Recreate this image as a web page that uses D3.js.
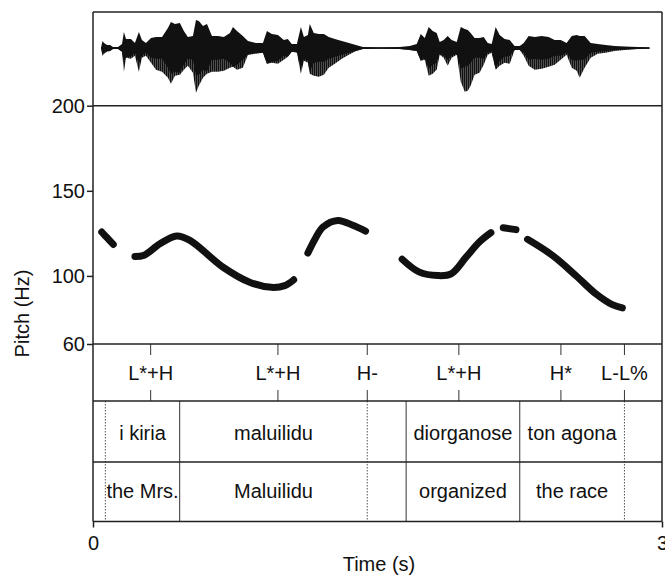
<!DOCTYPE html>
<html>
<head>
<meta charset="utf-8">
<script src="https://cdn.jsdelivr.net/npm/d3@7"></script>
<style>
  body { margin: 0; background: #fff; }
  svg text { font-family: "Liberation Sans", Arial, sans-serif; fill: #111; }
</style>
</head>
<body>
<div id="viz-container"></div>
<script>
// ---- data ----
// pitch track (s, Hz); null = unvoiced gap
let pitchTime = [0.046, 0.075, 0.107, null,
  0.221, 0.27, 0.353, 0.441, 0.511, 0.686, 0.826, 0.941, 1.011, 1.058, null,
  1.133, 1.17, 1.212, 1.291, 1.37, 1.437, null,
  1.63, 1.721, 1.817, 1.888, 1.967, 2.037, 2.098, null,
  2.163, 2.23, null,
  2.291, 2.423, 2.546, 2.651, 2.738, 2.791];
let pitchHz = [125.8, 122.3, 118.5, null,
  111.4, 112.2, 118.9, 123.5, 120.9, 105.1, 96.3, 93.3, 94.3, 97.7, null,
  113.4, 121.5, 128.7, 132.6, 129.7, 126.3, null,
  109.8, 102.2, 100.2, 101.2, 111, 119.9, 125.4, null,
  128.3, 127.2, null,
  121.5, 112, 100.2, 89.5, 83.1, 81.2];

// waveform envelope (s, amplitude up / amplitude down, arbitrary units)
let waveTime = [0.042,0.050,0.058,0.074,0.090,0.105,0.132,0.153,0.163,0.174,0.200,0.221,0.242,0.258,0.279,0.306,0.332,0.364,0.395,0.411,
  0.432,0.458,0.479,0.500,0.527,0.543,0.558,0.580,0.601,0.627,0.659,0.690,0.722,0.738,0.759,0.790,0.817,0.859,0.896,0.917,0.943,0.975,1.006,
  1.027,1.048,1.075,1.096,1.112,1.133,1.143,1.164,1.191,1.217,1.243,1.275,1.312,1.349,1.386,1.423,1.512,1.617,1.670,1.707,
  1.728,1.749,1.770,1.791,1.812,1.828,1.849,1.870,1.891,1.918,1.939,1.960,
  1.976,1.991,2.012,2.038,2.060,2.081,2.102,2.123,2.144,2.170,2.197,2.223,2.250,2.271,2.297,2.329,2.366,2.402,2.434,2.466,
  2.497,2.524,2.550,2.566,2.592,2.624,2.661,2.703,2.750,2.803,2.871,2.934];
let waveUp = [0,7,5,3,3,1,1,4,16,9,9,5,16,8,5,10,11,11,20,26,
  24,25,17,11,12,28,27,22,24,12,12,11,15,21,17,12,7,5,5,17,14,13,8,
  9,4,4,21,11,13,24,15,14,14,11,9,7,5,3,1,0.5,1,2,4,
  14,10,21,17,15,6,8,12,8,6,21,19,
  18,15,10,10,11,5,4,21,13,9,8,2,2,5,12,11,12,11,8,8,
  5,12,13,12,12,5,4,3,2,1.5,1,0.5];
let waveDown = [0,8,6,4,3,1,1,4,24,10,11,8,24,10,8,15,22,24,30,36,
  28,27,22,18,25,45,38,30,26,24,24,23,20,19,22,20,7,6,5,16,15,16,12,
  9,4,5,26,13,15,26,28,29,27,20,16,11,7,3,1,0.5,1,2,3,
  13,12,28,26,22,7,10,18,10,7,34,44,
  43,38,27,25,17,7,5,22,18,15,16,2,2,8,18,22,21,19,17,12,
  7,20,23,30,20,10,6,5,3,2,1,0.5];

// tones tier
let toneTime = [0.304, 0.975, 1.446, 1.929, 2.467, 2.802];
let toneLabel = ["L*+H", "L*+H", "H-", "L*+H", "H*", "L-L%"];

// word tiers
let wordBounds = [0.065, 0.457, 1.446, 1.651, 2.250, 2.802];
let wordDotted = [true, false, true, false, false, true];
let words = ["i kiria", "maluilidu", "", "diorganose", "ton agona"];
let gloss = ["the Mrs.", "Maluilidu", "", "organized", "the race"];

let pitchTicks = [60, 100, 150, 200];
let timeTicks = [0, 3];

// ---- layout ----
let W = 665, H = 577;
let left = 93, right = 662;
let yTop = 12, y200 = 105.7, y60 = 344, yTone = 401, yWord = 462, yBottom = 521.5;

let viz = d3.select("#viz-container")
  .append("svg")
    .attr("width", W)
    .attr("height", H)
;

let x = d3.scaleLinear().domain([0, 3]).range([left, right]);
let yPitch = d3.scaleLinear().domain([60, 200]).range([y60, y200]);
let yWave = d3.scaleLinear().domain([-58, 36]).range([y200, yTop]);

// stripes for the lower lobes of the waveform
let defs = viz.append("defs");
let pat = defs.append("pattern")
    .attr("id", "stripes")
    .attr("patternUnits", "userSpaceOnUse")
    .attr("width", 2)
    .attr("height", 4);
pat.append("rect").attr("width", 2).attr("height", 4).attr("fill", "#6a6a6a");
pat.append("rect").attr("width", 1.3).attr("height", 4).attr("fill", "#111");

// waveform
let wave = waveTime.map((t, i) => ({ t: t, up: waveUp[i], down: waveDown[i] }));

viz.append("path")
    .datum(wave)
    .attr("d", d3.area()
      .x(d => x(d.t))
      .y0(yWave(0))
      .y1(d => yWave(-d.down)))
    .attr("fill", "url(#stripes)")
;
// dark core: the positive lobe, mirrored
viz.append("path")
    .datum(wave)
    .attr("d", d3.area()
      .x(d => x(d.t))
      .y0(d => yWave(-Math.min(d.up, d.down)))
      .y1(d => yWave(d.up)))
    .attr("fill", "#111")
;
viz.append("line")
    .attr("x1", x(waveTime[0]))
    .attr("x2", x(waveTime[waveTime.length - 1]))
    .attr("y1", yWave(0))
    .attr("y2", yWave(0))
    .attr("stroke", "#111")
    .attr("stroke-width", 1.5)
;

// pitch track
let pitch = pitchTime.map((t, i) => ({ t: t, hz: pitchHz[i] }));
viz.append("path")
    .datum(pitch)
    .attr("d", d3.line()
      .defined(d => d.hz != null)
      .x(d => x(d.t))
      .y(d => yPitch(d.hz))
      .curve(d3.curveCatmullRom))
    .attr("fill", "none")
    .attr("stroke", "#111")
    .attr("stroke-width", 7)
    .attr("stroke-linecap", "round")
    .attr("stroke-linejoin", "round")
;

// word boundaries
viz.selectAll(".bound")
  .data(wordBounds)
  .enter()
  .append("line")
    .attr("x1", d => x(d))
    .attr("x2", d => x(d))
    .attr("y1", yTone)
    .attr("y2", yBottom)
    .attr("stroke", (d, i) => wordDotted[i] ? "#555" : "#333")
    .attr("stroke-width", 1)
    .attr("stroke-dasharray", (d, i) => wordDotted[i] ? "1.5,1.5" : null)
;

// tone ticks
toneTime.forEach(t => {
  viz.append("line")
      .attr("x1", x(t)).attr("x2", x(t))
      .attr("y1", y60).attr("y2", y60 + 11)
      .attr("stroke", "#333").attr("stroke-width", 1);
  viz.append("line")
      .attr("x1", x(t)).attr("x2", x(t))
      .attr("y1", yTone - 11).attr("y2", yTone)
      .attr("stroke", "#333").attr("stroke-width", 1);
});

// horizontal frame lines
[yTop, y200, y60, yTone, yWord, yBottom].forEach(yy => {
  viz.append("line")
      .attr("x1", left).attr("x2", right)
      .attr("y1", yy).attr("y2", yy)
      .attr("stroke", "#222")
      .attr("stroke-width", 1.5);
});
[left, right].forEach(xx => {
  viz.append("line")
      .attr("x1", xx).attr("x2", xx)
      .attr("y1", yTop).attr("y2", yBottom)
      .attr("stroke", "#222")
      .attr("stroke-width", 1.5);
});

// tone labels
viz.selectAll(".tone")
  .data(toneTime)
  .enter()
  .append("text")
    .attr("x", d => x(d))
    .attr("y", 380)
    .attr("text-anchor", "middle")
    .attr("font-size", 20)
    .text((d, i) => toneLabel[i])
;

// word + gloss labels, centred in each interval
let mids = words.map((w, i) => (wordBounds[i] + wordBounds[i + 1]) / 2);
viz.selectAll(".word")
  .data(mids)
  .enter()
  .append("text")
    .attr("x", d => x(d))
    .attr("y", 439.5)
    .attr("text-anchor", "middle")
    .attr("font-size", 20)
    .text((d, i) => words[i])
;
viz.selectAll(".gloss")
  .data(mids)
  .enter()
  .append("text")
    .attr("x", d => x(d))
    .attr("y", 497.5)
    .attr("text-anchor", "middle")
    .attr("font-size", 20)
    .text((d, i) => gloss[i])
;

// axes
let yAxis = viz.append("g")
    .attr("transform", `translate(${left},0)`)
    .call(d3.axisLeft(yPitch).tickValues(pitchTicks).tickSize(6).tickPadding(2));
yAxis.select(".domain").remove();
yAxis.selectAll("line").attr("stroke", "#222").attr("stroke-width", 1.5);
yAxis.selectAll("text").attr("font-size", 20).attr("font-family", null).attr("fill", "#111");

let xAxis = viz.append("g")
    .attr("transform", `translate(0,${yBottom})`)
    .call(d3.axisBottom(x).tickValues(timeTicks).tickSize(6).tickPadding(8).tickFormat(d3.format("d")));
xAxis.select(".domain").remove();
xAxis.selectAll("line").attr("stroke", "#222").attr("stroke-width", 1.5);
xAxis.selectAll("text").attr("font-size", 20).attr("font-family", null).attr("fill", "#111");

// axis titles
viz.append("text")
    .attr("transform", "translate(28.5,313.5) rotate(-90)")
    .attr("text-anchor", "middle")
    .attr("font-size", 20)
    .text("Pitch (Hz)")
;
viz.append("text")
    .attr("x", 379)
    .attr("y", 571)
    .attr("text-anchor", "middle")
    .attr("font-size", 20)
    .text("Time (s)")
;
</script>
</body>
</html>
